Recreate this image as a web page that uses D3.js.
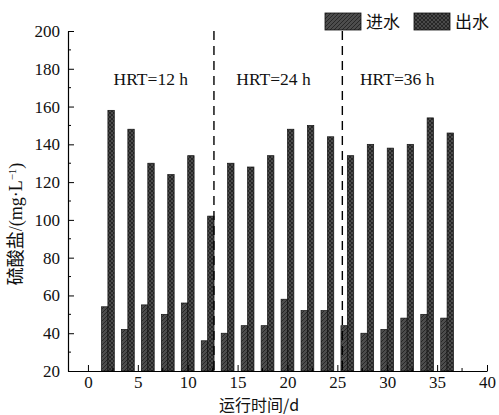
<!DOCTYPE html>
<html>
<head>
<meta charset="utf-8">
<script src="https://cdn.jsdelivr.net/npm/d3@7"></script>
<style>
  body { margin: 0; background: #fff; }
  text { font-family: "Liberation Serif", "Noto Sans CJK SC", serif; fill: #111; }
  .cjk { font-family: "Noto Sans CJK SC", "Liberation Serif", serif; }
</style>
</head>
<body>
<div id="chart"></div>
<script>
// data
const days = [2, 4, 6, 8, 10, 12, 14, 16, 18, 20, 22, 24, 26, 28, 30, 32, 34, 36];
const influent = [54, 42, 55, 50, 56, 36, 40, 44, 44, 58, 52, 52, 44, 40, 42, 48, 50, 48];
const effluent = [158, 148, 130, 124, 134, 102, 130, 128, 134, 148, 150, 144, 134, 140, 138, 140, 154, 146];
const xTicks = [0, 5, 10, 15, 20, 25, 30, 35, 40];
const yTicks = [20, 40, 60, 80, 100, 120, 140, 160, 180, 200];
const phaseBreaks = [12.63, 25.5];
const phaseLabels = [
  { x: 6.3, text: "HRT=12 h" },
  { x: 18.6, text: "HRT=24 h" },
  { x: 31, text: "HRT=36 h" }
];
const seriesNames = ["进水", "出水"];

let margin = { top: 31, right: 12, bottom: 44, left: 68 },
    width = 499 - margin.left - margin.right,
    height = 415 - margin.top - margin.bottom;

let svg = d3.select("#chart")
    .append("svg")
    .attr("width", 499)
    .attr("height", 415);

// hatch patterns
let defs = svg.append("defs");
let diag = defs.append("pattern")
    .attr("id", "diag")
    .attr("patternUnits", "userSpaceOnUse")
    .attr("width", 4).attr("height", 4);
diag.append("rect").attr("width", 4).attr("height", 4).attr("fill", "#4d4d4d");
diag.append("path").attr("d", "M-1,1 l2,-2 M0,4 l4,-4 M3,5 l2,-2")
    .attr("stroke", "#222").attr("stroke-width", 0.9);

let cross = defs.append("pattern")
    .attr("id", "cross")
    .attr("patternUnits", "userSpaceOnUse")
    .attr("width", 4).attr("height", 4);
cross.append("rect").attr("width", 4).attr("height", 4).attr("fill", "#4a4a4a");
cross.append("path").attr("d", "M0,0 L4,4 M4,0 L0,4")
    .attr("stroke", "#1e1e1e").attr("stroke-width", 0.8);

let g = svg.append("g")
    .attr("transform", "translate(" + margin.left + "," + margin.top + ")");

let x = d3.scaleLinear().domain([-2, 40]).range([0, width]);
let y = d3.scaleLinear().domain([20, 200]).range([height, 0]);
const barW = 0.64;

// Bars
g.selectAll(".inf")
    .data(days)
    .enter()
    .append("rect")
    .attr("x", (d) => x(d - barW))
    .attr("y", (d, i) => y(influent[i]))
    .attr("width", x(barW) - x(0))
    .attr("height", (d, i) => height - y(influent[i]))
    .attr("fill", "url(#diag)")
    .attr("stroke", "#111")
    .attr("stroke-width", 0.7);

g.selectAll(".eff")
    .data(days)
    .enter()
    .append("rect")
    .attr("x", (d) => x(d))
    .attr("y", (d, i) => y(effluent[i]))
    .attr("width", x(barW) - x(0))
    .attr("height", (d, i) => height - y(effluent[i]))
    .attr("fill", "url(#cross)")
    .attr("stroke", "#111")
    .attr("stroke-width", 0.7);

// X axis (ticks inside)
let xAxis = g.append("g")
    .attr("transform", "translate(0," + height + ")")
    .call(d3.axisBottom(x).tickValues(xTicks).tickSizeInner(-6).tickSizeOuter(0).tickPadding(9));
xAxis.append("g").selectAll("line")
    .data(d3.range(2.5, 40, 5))
    .enter().append("line")
    .attr("x1", (d) => x(d)).attr("x2", (d) => x(d))
    .attr("y1", 0).attr("y2", -3)
    .attr("stroke", "#000");

// Y axis (ticks inside)
let yAxis = g.append("g")
    .call(d3.axisLeft(y).tickValues(yTicks).tickSizeInner(-6).tickSizeOuter(0).tickPadding(9));
yAxis.append("g").selectAll("line")
    .data(d3.range(30, 200, 20))
    .enter().append("line")
    .attr("x1", 0).attr("x2", 3)
    .attr("y1", (d) => y(d)).attr("y2", (d) => y(d))
    .attr("stroke", "#000");

[xAxis, yAxis].forEach((a) => {
    a.select(".domain").attr("stroke", "#000").attr("stroke-width", 1.2);
    a.selectAll(".tick line").attr("stroke", "#000");
    a.selectAll(".tick text")
        .style("font-family", "Liberation Serif")
        .style("font-size", "17px")
        .attr("fill", "#111");
});
yAxis.selectAll(".tick text").attr("x", -8);
xAxis.selectAll(".tick text").attr("y", 5);

// phase breaks
g.selectAll(".brk")
    .data(phaseBreaks)
    .enter()
    .append("line")
    .attr("x1", (d) => x(d)).attr("x2", (d) => x(d))
    .attr("y1", 0).attr("y2", height)
    .attr("stroke", "#000")
    .attr("stroke-width", 1.4)
    .attr("stroke-dasharray", "9,6");

g.selectAll(".phase")
    .data(phaseLabels)
    .enter()
    .append("text")
    .attr("x", (d) => x(d.x))
    .attr("y", 85 - margin.top)
    .attr("text-anchor", "middle")
    .style("font-size", "17.5px")
    .text((d) => d.text);

// X axis label
svg.append("text")
    .attr("class", "cjk")
    .attr("x", 259)
    .attr("y", 410.5)
    .attr("text-anchor", "middle")
    .style("font-size", "16px")
    .text("运行时间/d");

// Y axis label
let yl = svg.append("text")
    .attr("transform", "translate(22,224) rotate(-90)")
    .attr("text-anchor", "middle")
    .style("font-size", "18px");
yl.append("tspan").attr("class", "cjk").text("硫酸盐");
yl.append("tspan").text("/(mg·L");
yl.append("tspan").attr("baseline-shift", "super").style("font-size", "11px").text("−1");
yl.append("tspan").text(")");

// Legend
let legend = svg.append("g");
const legendX = [325, 414];
const legendFill = ["url(#diag)", "url(#cross)"];
seriesNames.forEach((name, i) => {
    legend.append("rect")
        .attr("x", legendX[i]).attr("y", 13)
        .attr("width", 36).attr("height", 17)
        .attr("fill", legendFill[i])
        .attr("stroke", "#111").attr("stroke-width", 0.8);
    legend.append("text")
        .attr("class", "cjk")
        .attr("x", legendX[i] + 41).attr("y", 28)
        .style("font-size", "17px")
        .text(name);
});
</script>
</body>
</html>
